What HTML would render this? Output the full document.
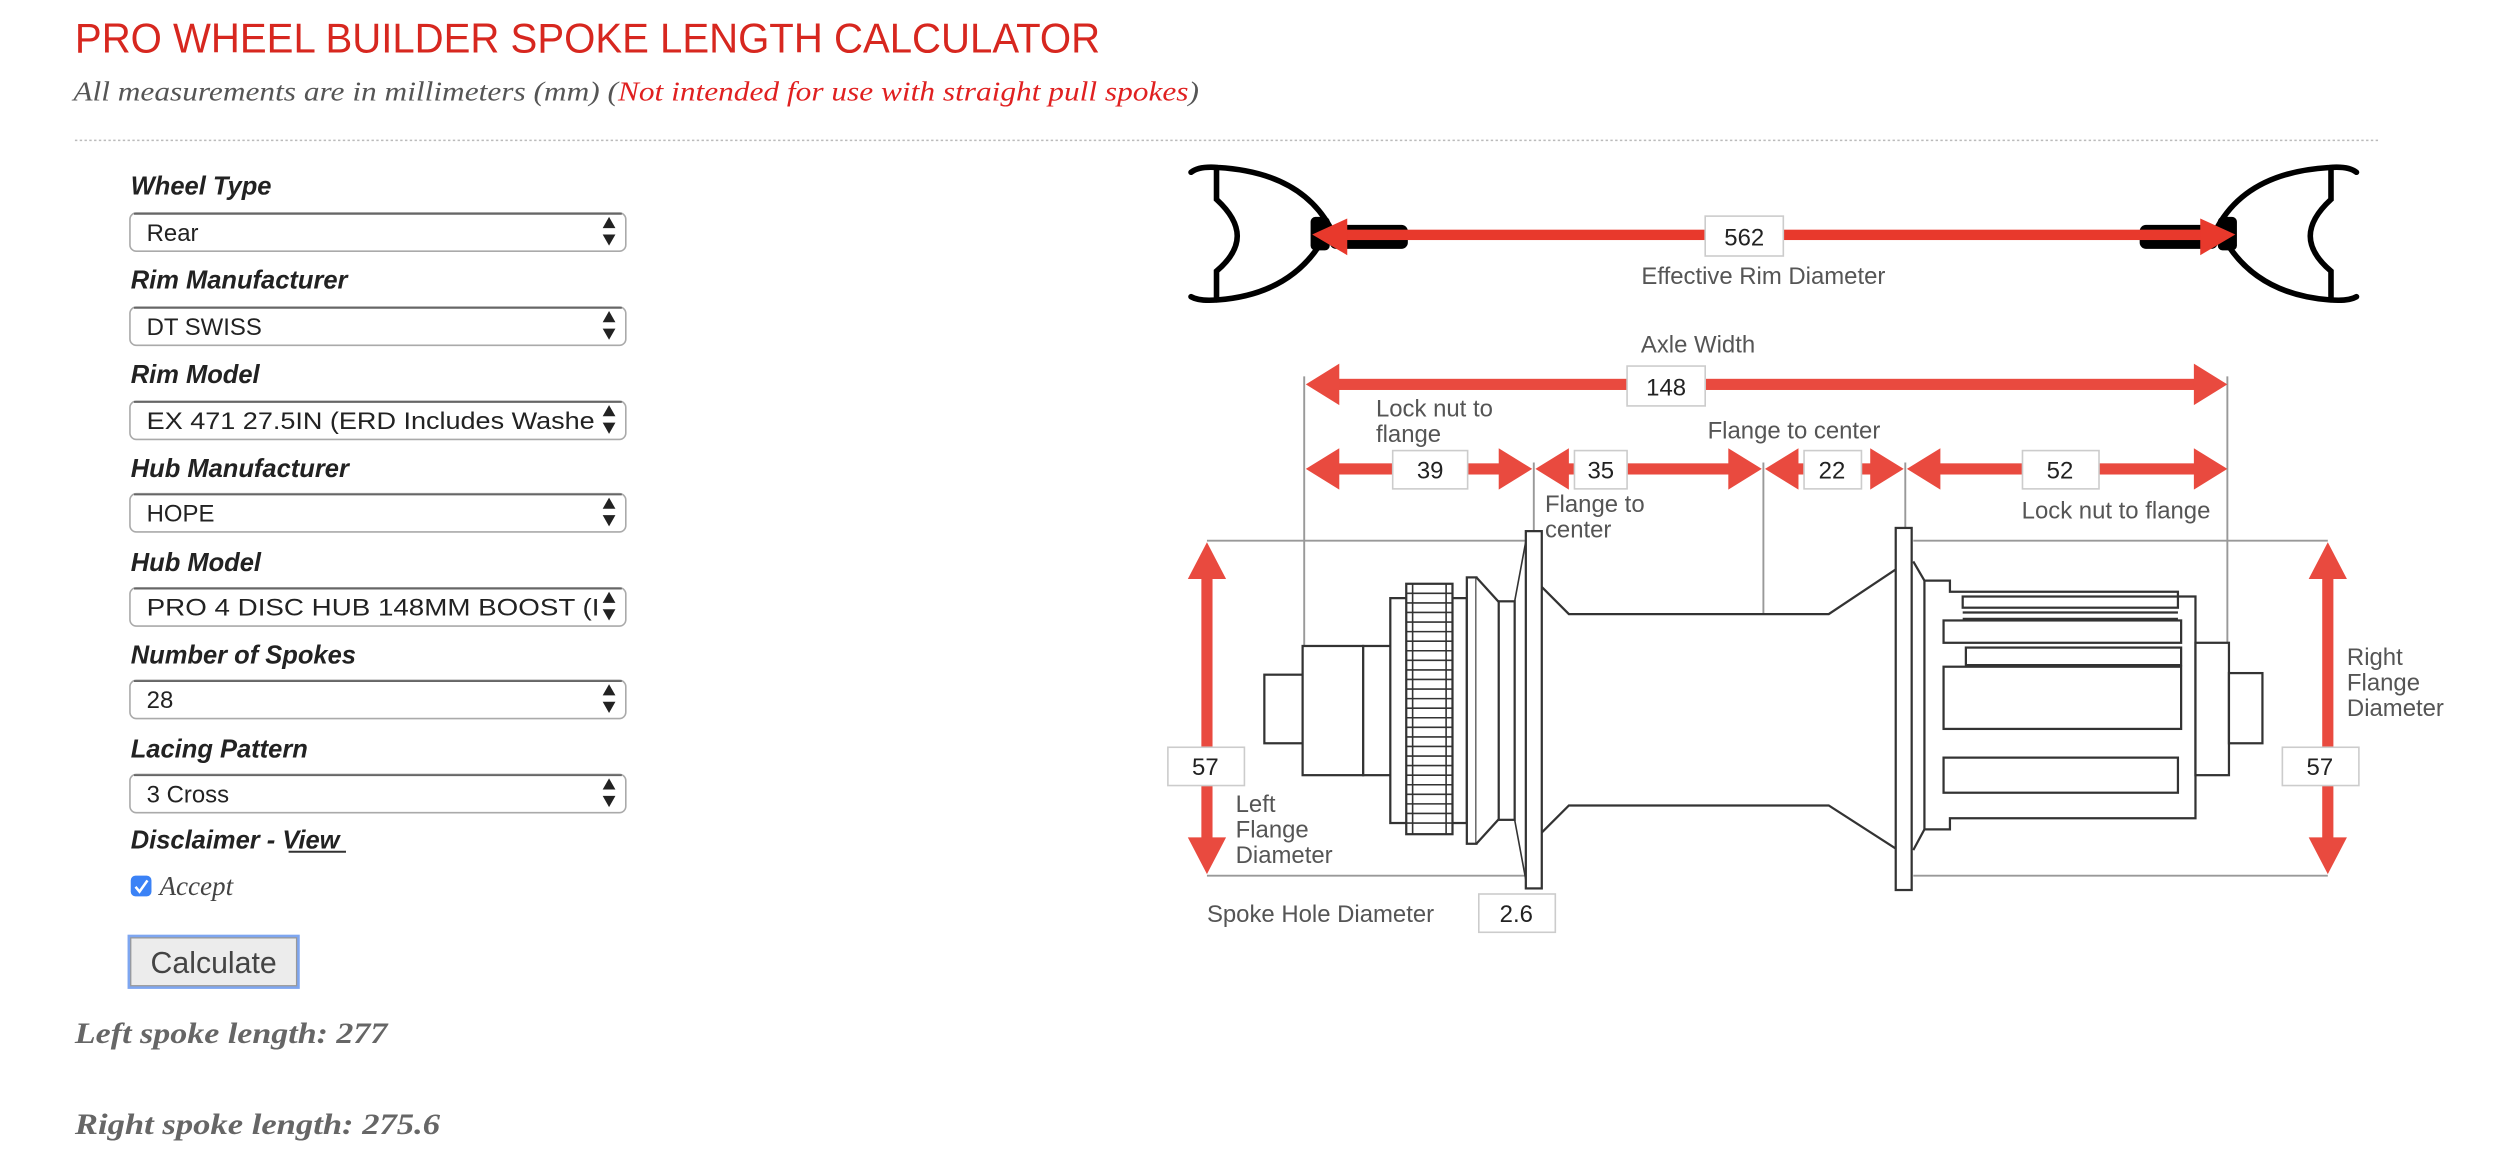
<!DOCTYPE html>
<html><head><meta charset="utf-8"><style>
html,body{margin:0;padding:0;background:#fff;}
svg{display:block;}
</style></head><body>
<svg width="2500" height="1150" viewBox="0 0 1568 721" preserveAspectRatio="none" xmlns="http://www.w3.org/2000/svg">
<rect width="1568" height="721" fill="#fff"/>
<text x="47" y="33" font-family="Liberation Sans, sans-serif" font-size="26" fill="#d7271f" textLength="643" lengthAdjust="spacingAndGlyphs">PRO WHEEL BUILDER SPOKE LENGTH CALCULATOR</text>
<text x="46" y="63" font-family="Liberation Serif, serif" font-style="italic" font-size="17" fill="#555" textLength="706" lengthAdjust="spacingAndGlyphs">All measurements are in millimeters (mm) (<tspan fill="#e02020">Not intended for use with straight pull spokes</tspan>)</text>
<line x1="47" y1="88" x2="1493" y2="88" stroke="#bbb" stroke-width="1" stroke-dasharray="1.5,1.5"/>

<g font-family="Liberation Sans, sans-serif" font-weight="bold" font-style="italic" font-size="16" fill="#222">
<text x="82" y="122">Wheel Type</text>
<text x="82" y="181">Rim Manufacturer</text>
<text x="82" y="240">Rim Model</text>
<text x="82" y="299">Hub Manufacturer</text>
<text x="82" y="358">Hub Model</text>
<text x="82" y="416">Number of Spokes</text>
<text x="82" y="475">Lacing Pattern</text>
<text x="82" y="532">Disclaimer - View</text>
</g>
<line x1="181" y1="534" x2="217" y2="534" stroke="#333" stroke-width="1.2"/>
<g font-family="Liberation Sans, sans-serif" font-size="15" fill="#222">
<g><rect x="81.5" y="133.5" width="311" height="24" rx="4" fill="#fff" stroke="#aaa"/><line x1="84" y1="134" x2="390" y2="134" stroke="#666" stroke-width="1.2"/><text x="92" y="151">Rear</text></g>
<g><rect x="81.5" y="192.5" width="311" height="24" rx="4" fill="#fff" stroke="#aaa"/><line x1="84" y1="193" x2="390" y2="193" stroke="#666" stroke-width="1.2"/><text x="92" y="210">DT SWISS</text></g>
<g><rect x="81.5" y="251.5" width="311" height="24" rx="4" fill="#fff" stroke="#aaa"/><line x1="84" y1="252" x2="390" y2="252" stroke="#666" stroke-width="1.2"/><text x="92" y="269" textLength="281" lengthAdjust="spacingAndGlyphs">EX 471 27.5IN (ERD Includes Washe</text></g>
<g><rect x="81.5" y="309.5" width="311" height="24" rx="4" fill="#fff" stroke="#aaa"/><line x1="84" y1="310" x2="390" y2="310" stroke="#666" stroke-width="1.2"/><text x="92" y="327">HOPE</text></g>
<g><rect x="81.5" y="368.5" width="311" height="24" rx="4" fill="#fff" stroke="#aaa"/><line x1="84" y1="369" x2="390" y2="369" stroke="#666" stroke-width="1.2"/><text x="92" y="386" textLength="284" lengthAdjust="spacingAndGlyphs">PRO 4 DISC HUB 148MM BOOST (I</text></g>
<g><rect x="81.5" y="426.5" width="311" height="24" rx="4" fill="#fff" stroke="#aaa"/><line x1="84" y1="427" x2="390" y2="427" stroke="#666" stroke-width="1.2"/><text x="92" y="444">28</text></g>
<g><rect x="81.5" y="485.5" width="311" height="24" rx="4" fill="#fff" stroke="#aaa"/><line x1="84" y1="486" x2="390" y2="486" stroke="#666" stroke-width="1.2"/><text x="92" y="503">3 Cross</text></g>
</g>
<g fill="#222">
<path d="M378,143 l4,-7 l4,7z M378,147 l4,7 l4,-7z"/>
<path d="M378,202 l4,-7 l4,7z M378,206 l4,7 l4,-7z"/>
<path d="M378,261 l4,-7 l4,7z M378,265 l4,7 l4,-7z"/>
<path d="M378,319 l4,-7 l4,7z M378,323 l4,7 l4,-7z"/>
<path d="M378,378 l4,-7 l4,7z M378,382 l4,7 l4,-7z"/>
<path d="M378,436 l4,-7 l4,7z M378,440 l4,7 l4,-7z"/>
<path d="M378,495 l4,-7 l4,7z M378,499 l4,7 l4,-7z"/>
</g>
<rect x="82" y="549" width="13" height="13" rx="3" fill="#3b82f6"/>
<path d="M85,556 l2.5,3 l5,-7" stroke="#fff" stroke-width="1.6" fill="none"/>
<text x="100" y="561" font-family="Liberation Serif, serif" font-style="italic" font-size="17" fill="#444">Accept</text>
<rect x="80" y="586" width="108" height="34" fill="#7ea6f0"/>
<rect x="82" y="588" width="104" height="30" fill="#ececec" stroke="#999" stroke-width="0.8"/>
<text x="134" y="610" text-anchor="middle" font-family="Liberation Serif, serif" font-size="19" fill="#444" style="font-family:'Liberation Sans',sans-serif">Calculate</text>
<text x="47" y="654" font-family="Liberation Serif, serif" font-style="italic" font-weight="bold" font-size="18.5" fill="#666" textLength="196" lengthAdjust="spacingAndGlyphs">Left spoke length: 277</text>
<text x="47" y="711" font-family="Liberation Serif, serif" font-style="italic" font-weight="bold" font-size="18.5" fill="#666" textLength="229" lengthAdjust="spacingAndGlyphs">Right spoke length: 275.6</text>

<g fill="none" stroke="#000" stroke-width="3.5" stroke-linecap="round">
<path d="M747,108 Q752,104 764,105 Q815,108 834,142 Q815,184 764,188 Q752,189 747,186"/>
<path d="M763,106 L763,125 Q776,137 776,148 Q776,159 763,170 L763,188"/>
<path d="M1478,108 Q1473,104 1461,105 Q1410,108 1391,142 Q1410,184 1461,188 Q1473,189 1478,186"/>
<path d="M1462,106 L1462,125 Q1449,137 1449,148 Q1449,159 1462,170 L1462,188"/>
</g>
<rect x="822" y="136" width="12" height="21" rx="3" fill="#000"/>
<rect x="834" y="141" width="49" height="15" rx="4" fill="#000"/>
<rect x="1391" y="136" width="12" height="21" rx="3" fill="#000"/>
<rect x="1342" y="141" width="49" height="15" rx="4" fill="#000"/>
<g fill="#e8392c">
<rect x="843" y="144" width="540" height="6.5"/>
<path d="M823,147 L845,137 L845,160Z"/>
<path d="M1402,147 L1380,137 L1380,160Z"/>
</g>
<g font-family="Liberation Sans, sans-serif" font-size="15" fill="#222">
<rect x="1069.5" y="135.5" width="49" height="25" fill="#fff" stroke="#ccc"/><text x="1094" y="154" text-anchor="middle">562</text>
</g>

<g stroke="#999" stroke-width="1.2" fill="none">
<line x1="818" y1="236" x2="818" y2="405"/>
<line x1="1397" y1="236" x2="1397" y2="403"/>
<line x1="962" y1="290" x2="962" y2="334"/>
<line x1="1106" y1="290" x2="1106" y2="385"/>
<line x1="1195" y1="290" x2="1195" y2="332"/>
<line x1="757" y1="339" x2="958" y2="339"/>
<line x1="757" y1="549" x2="958" y2="549"/>
<line x1="1200" y1="339" x2="1460" y2="339"/>
<line x1="1200" y1="549" x2="1460" y2="549"/>
</g>

<g fill="#e94a3f">
<rect x="836" y="237.5" width="544" height="7"/>
<path d="M819,241 L840,228 L840,254Z"/><path d="M1397,241 L1376,228 L1376,254Z"/>
<rect x="836" y="290.5" width="110" height="7"/>
<path d="M819,294 L840,281 L840,307Z"/><path d="M961,294 L940,281 L940,307Z"/>
<rect x="980" y="290.5" width="110" height="7"/>
<path d="M963,294 L984,281 L984,307Z"/><path d="M1105,294 L1084,281 L1084,307Z"/>
<rect x="1124" y="290.5" width="55" height="7"/>
<path d="M1107,294 L1128,281 L1128,307Z"/><path d="M1194,294 L1173,281 L1173,307Z"/>
<rect x="1213" y="290.5" width="168" height="7"/>
<path d="M1196,294 L1217,281 L1217,307Z"/><path d="M1397,294 L1376,281 L1376,307Z"/>
<rect x="753.5" y="360" width="7" height="170"/>
<path d="M757,340 L745,363 L769,363Z"/><path d="M757,548 L745,525 L769,525Z"/>
<rect x="1456.5" y="360" width="7" height="170"/>
<path d="M1460,340 L1448,363 L1472,363Z"/><path d="M1460,548 L1448,525 L1472,525Z"/>
</g>

<g fill="#fff" stroke="#333" stroke-width="1.4">
<rect x="793" y="423" width="24" height="43"/>
<rect x="817" y="405" width="38" height="81"/>
<rect x="855" y="405" width="25" height="81"/>
<rect x="872" y="375" width="48" height="141"/>
<rect x="882" y="366" width="29" height="157"/>
<rect x="920" y="362" width="6" height="167"/>
<path d="M926,362 L946,384 L946,507 L926,529"/>
<rect x="940" y="377" width="10" height="137"/>
<path d="M950,377 L958,334 M950,514 L958,557" fill="none" stroke-width="1"/>
<path d="M967,368 L984,385 L1147,385 L1189,357" fill="none"/>
<path d="M967,522 L984,505 L1147,505 L1189,532" fill="none"/>
<path d="M1200,352 L1207,364 L1223,364 L1223,371 L1366,371 L1366,374 L1377,374 L1377,513 L1366,513 L1366,513 L1223,513 L1223,520 L1207,520 L1200,533" fill="none"/>
<rect x="1377" y="403" width="21" height="83"/>
<rect x="1398" y="422" width="21" height="44"/>
<rect x="1231" y="374" width="135" height="7"/>
<line x1="1231" y1="384" x2="1366" y2="384"/>
<line x1="1231" y1="388" x2="1366" y2="388"/>
<rect x="1219" y="389" width="149" height="14"/>
<rect x="1233" y="406" width="135" height="11"/>
<rect x="1219" y="418" width="149" height="39"/>
<rect x="1219" y="475" width="147" height="22"/>
<line x1="1207" y1="364" x2="1207" y2="520"/>
<rect x="957" y="333" width="10" height="224"/>
<rect x="1189" y="331" width="10" height="227"/>
</g>
<g stroke="#333" stroke-width="1">
<line x1="882" y1="372" x2="911" y2="372"/><line x1="882" y1="378" x2="911" y2="378"/><line x1="882" y1="384" x2="911" y2="384"/><line x1="882" y1="390" x2="911" y2="390"/><line x1="882" y1="396" x2="911" y2="396"/><line x1="882" y1="402" x2="911" y2="402"/><line x1="882" y1="408" x2="911" y2="408"/><line x1="882" y1="414" x2="911" y2="414"/><line x1="882" y1="420" x2="911" y2="420"/><line x1="882" y1="426" x2="911" y2="426"/><line x1="882" y1="432" x2="911" y2="432"/><line x1="882" y1="438" x2="911" y2="438"/><line x1="882" y1="444" x2="911" y2="444"/><line x1="882" y1="450" x2="911" y2="450"/><line x1="882" y1="456" x2="911" y2="456"/><line x1="882" y1="462" x2="911" y2="462"/><line x1="882" y1="468" x2="911" y2="468"/><line x1="882" y1="474" x2="911" y2="474"/><line x1="882" y1="480" x2="911" y2="480"/><line x1="882" y1="486" x2="911" y2="486"/><line x1="882" y1="492" x2="911" y2="492"/><line x1="882" y1="498" x2="911" y2="498"/><line x1="882" y1="504" x2="911" y2="504"/><line x1="882" y1="510" x2="911" y2="510"/><line x1="882" y1="516" x2="911" y2="516"/>
<line x1="886" y1="366" x2="886" y2="523"/><line x1="907" y1="366" x2="907" y2="523"/>
</g>

<g font-family="Liberation Sans, sans-serif" font-size="15" fill="#555">
<text x="1106" y="178" text-anchor="middle">Effective Rim Diameter</text>
<text x="1065" y="221" text-anchor="middle">Axle Width</text>
<text x="863" y="261">Lock nut to</text>
<text x="863" y="277">flange</text>
<text x="1071" y="275">Flange to center</text>
<text x="969" y="321">Flange to</text>
<text x="969" y="337">center</text>
<text x="1268" y="325">Lock nut to flange</text>
<text x="775" y="509">Left</text>
<text x="775" y="525">Flange</text>
<text x="775" y="541">Diameter</text>
<text x="1472" y="417">Right</text>
<text x="1472" y="433">Flange</text>
<text x="1472" y="449">Diameter</text>
<text x="757" y="578">Spoke Hole Diameter</text>
</g>
<g font-family="Liberation Sans, sans-serif" font-size="15" fill="#222" text-anchor="middle">
<rect x="1020.5" y="229.5" width="49" height="25" fill="#fff" stroke="#ccc"/><text x="1045" y="248">148</text>
<rect x="873.5" y="282.5" width="47" height="24" fill="#fff" stroke="#ccc"/><text x="897" y="300">39</text>
<rect x="987.5" y="282.5" width="33" height="24" fill="#fff" stroke="#ccc"/><text x="1004" y="300">35</text>
<rect x="1131.5" y="282.5" width="36" height="24" fill="#fff" stroke="#ccc"/><text x="1149" y="300">22</text>
<rect x="1268.5" y="282.5" width="48" height="24" fill="#fff" stroke="#ccc"/><text x="1292" y="300">52</text>
<rect x="732.5" y="468.5" width="48" height="24" fill="#fff" stroke="#ccc"/><text x="756" y="486">57</text>
<rect x="1431.5" y="468.5" width="48" height="24" fill="#fff" stroke="#ccc"/><text x="1455" y="486">57</text>
<rect x="927.5" y="560.5" width="48" height="24" fill="#fff" stroke="#ccc"/><text x="951" y="578">2.6</text>
</g>
</svg>
</body></html>
